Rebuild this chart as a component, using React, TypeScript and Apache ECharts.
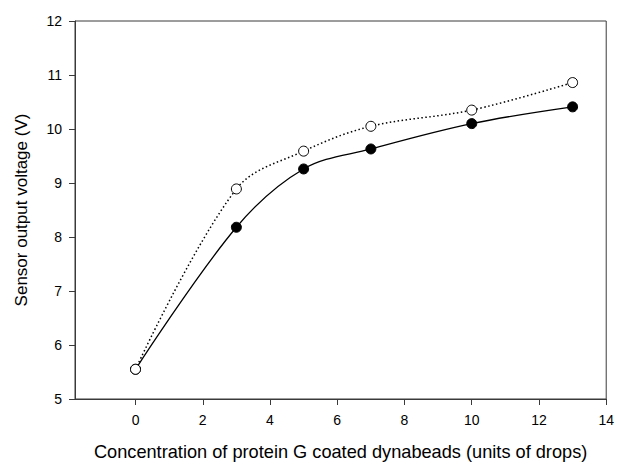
import React, { useEffect, useRef } from "react";
import * as echarts from "echarts";

const xValues = [0, 3, 5, 7, 10, 13];
const closedSeries = [5.55, 8.18, 9.26, 9.63, 10.1, 10.41];
const openSeries = [5.55, 8.89, 9.59, 10.05, 10.35, 10.86];
const xTicks = [0, 2, 4, 6, 8, 10, 12, 14];

export default function App() {
  const ref = useRef<HTMLDivElement>(null);
  useEffect(() => {
    const chart = echarts.init(ref.current!, null, { renderer: "svg" });
    const font = "Liberation Sans, Arial, sans-serif";
    chart.setOption({
      animation: false,
      backgroundColor: "#fff",
      grid: {
        left: 75,
        right: 10,
        top: 21,
        bottom: 63,
        show: true,
        borderColor: "#3a3a3a",
        borderWidth: 1,
      },
      xAxis: {
        type: "value",
        min: -1.8,
        max: 14,
        name: "Concentration of protein G coated dynabeads (units of drops)",
        nameLocation: "middle",
        nameGap: 44,
        nameTextStyle: { fontFamily: font, fontSize: 18.2, color: "#000" },
        axisLine: { onZero: false, lineStyle: { color: "#3a3a3a", width: 1 } },
        axisTick: { show: true, customValues: xTicks, length: 6, lineStyle: { color: "#3a3a3a" } },
        axisLabel: { customValues: xTicks, fontFamily: font, fontSize: 14, color: "#000", margin: 14 },
        splitLine: { show: false },
      },
      yAxis: {
        type: "value",
        min: 5,
        max: 12,
        interval: 1,
        name: "Sensor output voltage (V)",
        nameLocation: "middle",
        nameGap: 45,
        nameTextStyle: { fontFamily: font, fontSize: 17, color: "#000" },
        axisLine: { show: true, onZero: false, lineStyle: { color: "#3a3a3a", width: 1 } },
        axisTick: { show: true, length: 6, lineStyle: { color: "#3a3a3a" } },
        axisLabel: { fontFamily: font, fontSize: 14, color: "#000", margin: 13 },
        splitLine: { show: false },
      },
      series: [
        {
          type: "line",
          data: xValues.map((x, i) => [x, openSeries[i]]),
          smooth: 0.35,
          symbol: "circle",
          symbolSize: 10,
          lineStyle: { color: "#000", width: 1.5, type: [1.5, 2.5] },
          itemStyle: { color: "#fff", borderColor: "#000", borderWidth: 1 },
          z: 3,
        },
        {
          type: "line",
          data: xValues.map((x, i) => [x, closedSeries[i]]),
          smooth: 0.35,
          symbol: "circle",
          symbolSize: 10,
          lineStyle: { color: "#000", width: 1.3 },
          itemStyle: { color: "#000", borderColor: "#000", borderWidth: 1 },
          z: 2,
        },
      ],
    });
    return () => chart.dispose();
  }, []);
  return (
    <div
      ref={ref}
      style={{ position: "absolute", left: 0, top: 0, width: 617, height: 466 }}
    />
  );
}
